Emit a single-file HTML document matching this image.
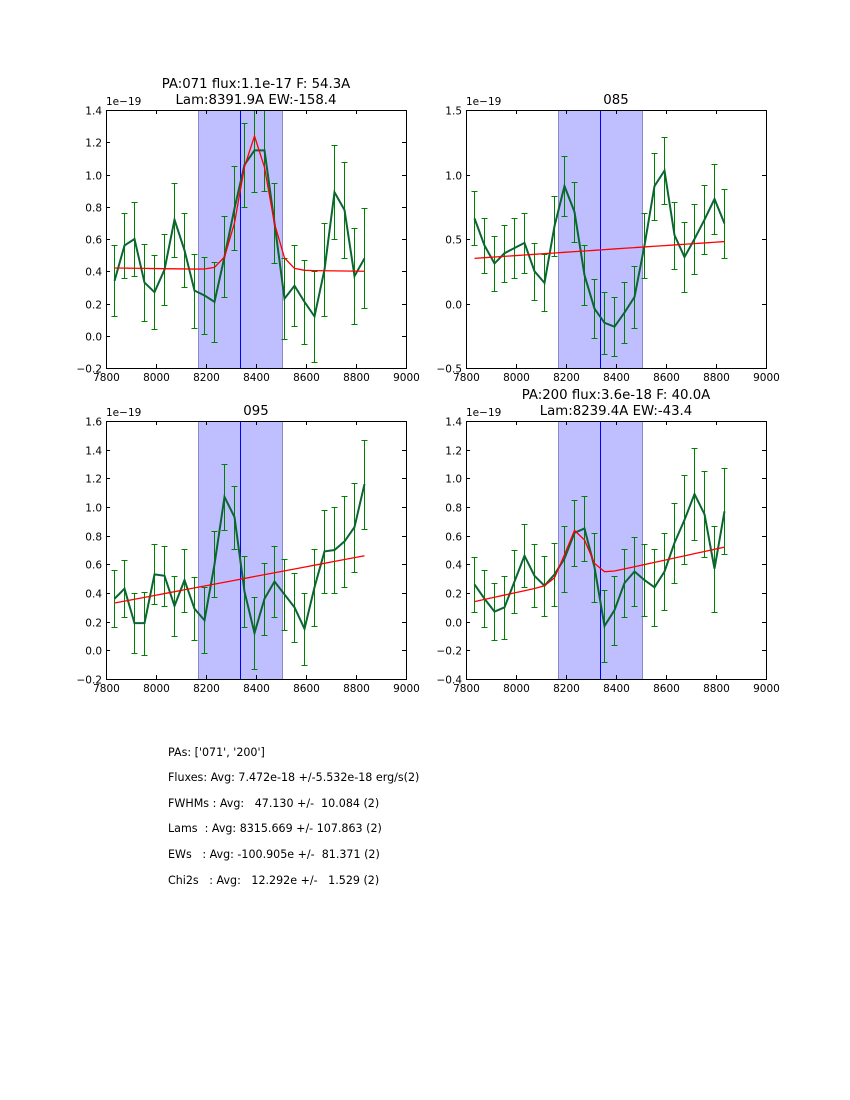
<!DOCTYPE html>
<html><head><meta charset="utf-8">
<style>
html,body{margin:0;padding:0;background:#fff;}
body{width:850px;height:1100px;position:relative;overflow:hidden;font-family:"DejaVu Sans","Liberation Sans",sans-serif;}
svg text{font-family:"DejaVu Sans","Liberation Sans",sans-serif;}
.stats{position:absolute;left:168px;font-size:11.1px;white-space:pre;color:#000;}
</style></head>
<body>
<svg id="fig" width="850" height="1100" style="position:absolute;left:0;top:0"></svg>
<div class="stats" style="top:746px">PAs: ['071', '200']</div>
<div class="stats" style="top:771px">Fluxes: Avg: 7.472e-18 +/-5.532e-18 erg/s(2)</div>
<div class="stats" style="top:797px">FWHMs : Avg:   47.130 +/-  10.084 (2)</div>
<div class="stats" style="top:822px">Lams  : Avg: 8315.669 +/- 107.863 (2)</div>
<div class="stats" style="top:848px">EWs   : Avg: -100.905e +/-  81.371 (2)</div>
<div class="stats" style="top:874px">Chi2s   : Avg:   12.292e +/-   1.529 (2)</div>
<script>
const xTicks = [7800, 8000, 8200, 8400, 8600, 8800, 9000];
const bandLo = 8168, bandHi = 8504, centerLine = 8336;
const x0 = 7832, dx = 40;
const vals1 = [0.34,0.56,0.60,0.33,0.27,0.41,0.72,0.53,0.28,0.25,0.21,0.49,0.79,1.06,1.15,1.15,0.70,0.23,0.31,0.21,0.12,0.41,0.89,0.78,0.37,0.48];
const errs1 = [.22,.20,.23,.24,.23,.22,.23,.23,.23,.24,.25,.25,.26,.26,.26,.25,.25,.25,.25,.26,.28,.29,.29,.30,.30,.31];
const vals2 = [0.66,0.45,0.31,0.39,0.43,0.47,0.25,0.16,0.60,0.91,0.71,0.22,-0.04,-0.15,-0.18,-0.07,0.05,0.45,0.91,1.03,0.53,0.36,0.50,0.65,0.81,0.62];
const errs2 = [.21,.21,.21,.22,.23,.23,.22,.22,.23,.23,.23,.23,.23,.24,.23,.24,.24,.25,.26,.26,.26,.27,.27,.27,.27,.27];
const vals3 = [0.36,0.43,0.19,0.19,0.53,0.52,0.31,0.49,0.29,0.21,0.60,1.07,0.93,0.41,0.12,0.36,0.48,0.39,0.30,0.15,0.44,0.69,0.70,0.76,0.86,1.16];
const errs3 = [.20,.20,.21,.22,.21,.21,.21,.22,.22,.23,.23,.23,.22,.25,.25,.25,.25,.25,.24,.25,.27,.29,.30,.32,.31,.31];
const vals4 = [0.26,0.16,0.07,0.10,0.28,0.46,0.32,0.25,0.33,0.44,0.62,0.65,0.38,-0.03,0.08,0.27,0.35,0.29,0.24,0.35,0.55,0.71,0.89,0.75,0.37,0.77];
const errs4 = [.19,.20,.20,.22,.22,.22,.22,.21,.22,.23,.23,.23,.24,.25,.24,.24,.24,.25,.27,.27,.28,.31,.32,.30,.30,.30];
// fit parameters: [continuum at start, continuum at end, gaussian amp, center, sigma]
const fit1 = [0.42, 0.40, 0.83, 8391.9, 55];
const fit2 = [0.35, 0.48, 0, 8336, 50];
const fit3 = [0.33, 0.66, 0, 8336, 50];
const fit4 = [0.14, 0.52, 0.35, 8239.4, 43];
const yTicks1 = [-0.2,0.0,0.2,0.4,0.6,0.8,1.0,1.2,1.4];
const yTicks2 = [-0.5,0.0,0.5,1.0,1.5];
const yTicks3 = [-0.2,0.0,0.2,0.4,0.6,0.8,1.0,1.2,1.4,1.6];
const yTicks4 = [-0.4,-0.2,0.0,0.2,0.4,0.6,0.8,1.0,1.2,1.4];
const titles = [["PA:071 flux:1.1e-17 F: 54.3A","Lam:8391.9A EW:-158.4"],["085"],["095"],["PA:200 flux:3.6e-18 F: 40.0A","Lam:8239.4A EW:-43.4"]];

const NS = "http://www.w3.org/2000/svg";
const svg = document.getElementById('fig');
function mk(tag, attrs, parent){const e=document.createElementNS(NS,tag);for(const k in attrs)e.setAttribute(k,attrs[k]);(parent||svg).appendChild(e);return e;}
function fmt(v){let s=v.toFixed(1);if(s==="-0.0")s="0.0";return s.replace('-','\u2212');}

function panel(idx, L, T, vals, errs, fit, yTicks){
  const W=300, H=258;
  const ymin=yTicks[0], ymax=yTicks[yTicks.length-1];
  const sx=v=>L+(v-7800)/1200*W;
  const sy=v=>T+H-(v-ymin)/(ymax-ymin)*H;
  const px=v=>Math.round(sx(v))+0.5;
  const g=mk('g',{});
  
  
  const cp=mk('clipPath',{id:'cp'+idx},g); mk('rect',{x:L,y:T,width:W,height:H},cp);
  const band=mk('rect',{x:px(bandLo),y:T+0.5,width:px(bandHi)-px(bandLo),height:H,fill:'#bfbfff',stroke:'#8a8ac8','stroke-width':1},g);
  
  
  const cl=mk('line',{x1:px(centerLine),x2:px(centerLine),y1:T,y2:T+H,stroke:'#0000ff','stroke-width':1},g);
  
  
  const dg=mk('g',{'clip-path':'url(#cp'+idx+')'},g);
  vals.forEach((v,i)=>{
    const x=px(x0+dx*i), e=errs[i];
    const y1=Math.round(sy(v-e))+0.5, y2=Math.round(sy(v+e))+0.5;
    const eb=mk('path',{d:`M${x},${y1}V${y2}M${x-3},${y1}H${x+3}M${x-3},${y2}H${x+3}`,stroke:'#008000','stroke-width':1,fill:'none'},dg);
    
    
  });
  const pts=vals.map((v,i)=>px(x0+dx*i)+','+sy(v)).join(' ');
  const ln=mk('polyline',{points:pts,fill:'none',stroke:'#0a6630','stroke-width':2},dg);
  
  
  const n=vals.length;
  const fp=vals.map((v,i)=>{const lam=x0+dx*i;const c=fit[0]+(fit[1]-fit[0])*i/(n-1);const gv=fit[2]*Math.exp(-Math.pow(lam-fit[3],2)/(2*fit[4]*fit[4]));return px(lam)+','+sy(c+gv);}).join(' ');
  const fl=mk('polyline',{points:fp,fill:'none',stroke:'#ff0000','stroke-width':1.3},dg);
  
  
  const fr=mk('rect',{x:L+0.5,y:T+0.5,width:W,height:H,fill:'none',stroke:'#000','stroke-width':1},g);
  
  
  xTicks.forEach(t=>{
    const x=px(t);
    mk('path',{d:`M${x},${T+H}v-4M${x},${T}v4`,stroke:'#000','stroke-width':1},g);
    const tx=mk('text',{x:x,y:T+H+13,'font-size':10.5,'text-anchor':'middle'},g);
    tx.textContent=t;
    
    
  });
  yTicks.forEach(t=>{
    const y=Math.round(sy(t))+0.5;
    mk('path',{d:`M${L},${y}h4M${L+W},${y}h-4`,stroke:'#000','stroke-width':1},g);
    const ty=mk('text',{x:L-4,y:y+4,'font-size':10.5,'text-anchor':'end'},g);
    ty.textContent=fmt(t);
    
    
  });
  const ex=mk('text',{x:L,y:T-5,'font-size':10.5},g);
  ex.textContent='1e\u221219';
  
  
  const tl=titles[idx];
  tl.forEach((s,k)=>{
    const tt=mk('text',{x:L+W/2,y:T-6-(tl.length-1-k)*16,'font-size':13.3,'text-anchor':'middle'},g);
    tt.textContent=s;
    
    
  });
}
panel(0,106,110,vals1,errs1,fit1,yTicks1);
panel(1,466,110,vals2,errs2,fit2,yTicks2);
panel(2,106,421,vals3,errs3,fit3,yTicks3);
panel(3,466,421,vals4,errs4,fit4,yTicks4);
</script>
</body></html>
